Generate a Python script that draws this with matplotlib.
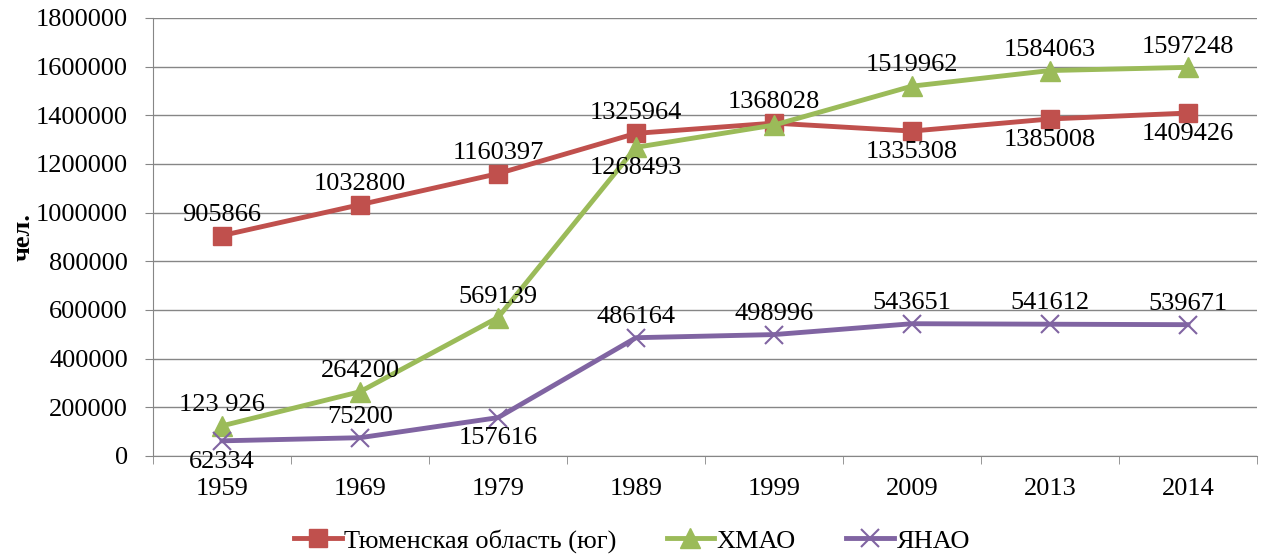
import matplotlib.pyplot as plt
import numpy as np

plt.rcParams["font.family"] = ["Liberation Serif", "DejaVu Serif"]

years = ["1959", "1969", "1979", "1989", "1999", "2009", "2013", "2014"]
tyumen = [905866, 1032800, 1160397, 1325964, 1368028, 1335308, 1385008, 1409426]
hmao = [123926, 264200, 569139, 1268493, 1360000, 1519962, 1584063, 1597248]
yanao = [62334, 75200, 157616, 486164, 498996, 543651, 541612, 539671]

tyumen_lbl = ["905866", "1032800", "1160397", "1325964", "1368028", "1335308", "1385008", "1409426"]
hmao_lbl = ["123 926", "264200", "569139", "1268493", "", "1519962", "1584063", "1597248"]
yanao_lbl = ["62334", "75200", "157616", "486164", "498996", "543651", "541612", "539671"]

# положение подписей: 1 - сверху, -1 - снизу
tyumen_pos = [1, 1, 1, 1, 1, -1, -1, -1]
hmao_pos = [1, 1, 1, -1, 1, 1, 1, 1]
yanao_pos = [-1, 1, -1, 1, 1, 1, 1, 1]

fig = plt.figure(figsize=(12.64, 5.56), dpi=100)
ax = fig.add_axes([153 / 1264, 100 / 556, 1104 / 1264, 438 / 556])

x = np.arange(len(years))
red, green, purple = "#C0504D", "#9BBB59", "#8064A2"

ax.plot(x, tyumen, color=red, lw=3.5, marker="s", ms=13, label="Тюменская область (юг)")
ax.plot(x, hmao, color=green, lw=3.5, marker="^", ms=14, label="ХМАО")
ax.plot(x, yanao, color=purple, lw=3.5, marker="x", ms=13, mew=1.5, label="ЯНАО")

for vals, lbls, pos in [(tyumen, tyumen_lbl, tyumen_pos), (hmao, hmao_lbl, hmao_pos), (yanao, yanao_lbl, yanao_pos)]:
    for i in range(len(vals)):
        if lbls[i] == "":
            continue
        ax.annotate(lbls[i], (x[i], vals[i]), xytext=(0, 7 * pos[i]), textcoords="offset points",
                    ha="center", va="bottom" if pos[i] > 0 else "top", fontsize=19)

ax.set_xlim(-0.5, len(years) - 0.5)
ax.set_ylim(0, 1800000)
ax.set_yticks(np.arange(0, 1800001, 200000))
ax.set_yticklabels([str(v) for v in range(0, 1800001, 200000)], fontsize=19)
ax.set_xticks(x)
ax.set_xticklabels(years, fontsize=19)
ax.set_xticks(np.arange(-0.5, len(years), 1), minor=True)
ax.tick_params(axis="x", which="major", length=0, pad=16)
ax.tick_params(axis="x", which="minor", length=6, color="#868686")
ax.tick_params(axis="y", length=6, color="#868686", pad=12)
ax.grid(axis="y", color="#868686", lw=1)
ax.set_axisbelow(True)
for s in ["top", "right"]:
    ax.spines[s].set_visible(False)
for s in ["left", "bottom"]:
    ax.spines[s].set_color("#868686")
ax.set_ylabel("чел.", fontsize=19, fontweight="bold", labelpad=1)

fig.legend(loc="center", bbox_to_anchor=(0.5, 15 / 556), ncol=3, frameon=False, fontsize=19,
           handlelength=1.8, columnspacing=1.9, handletextpad=0.1)

fig.savefig("out.png", dpi=100)
